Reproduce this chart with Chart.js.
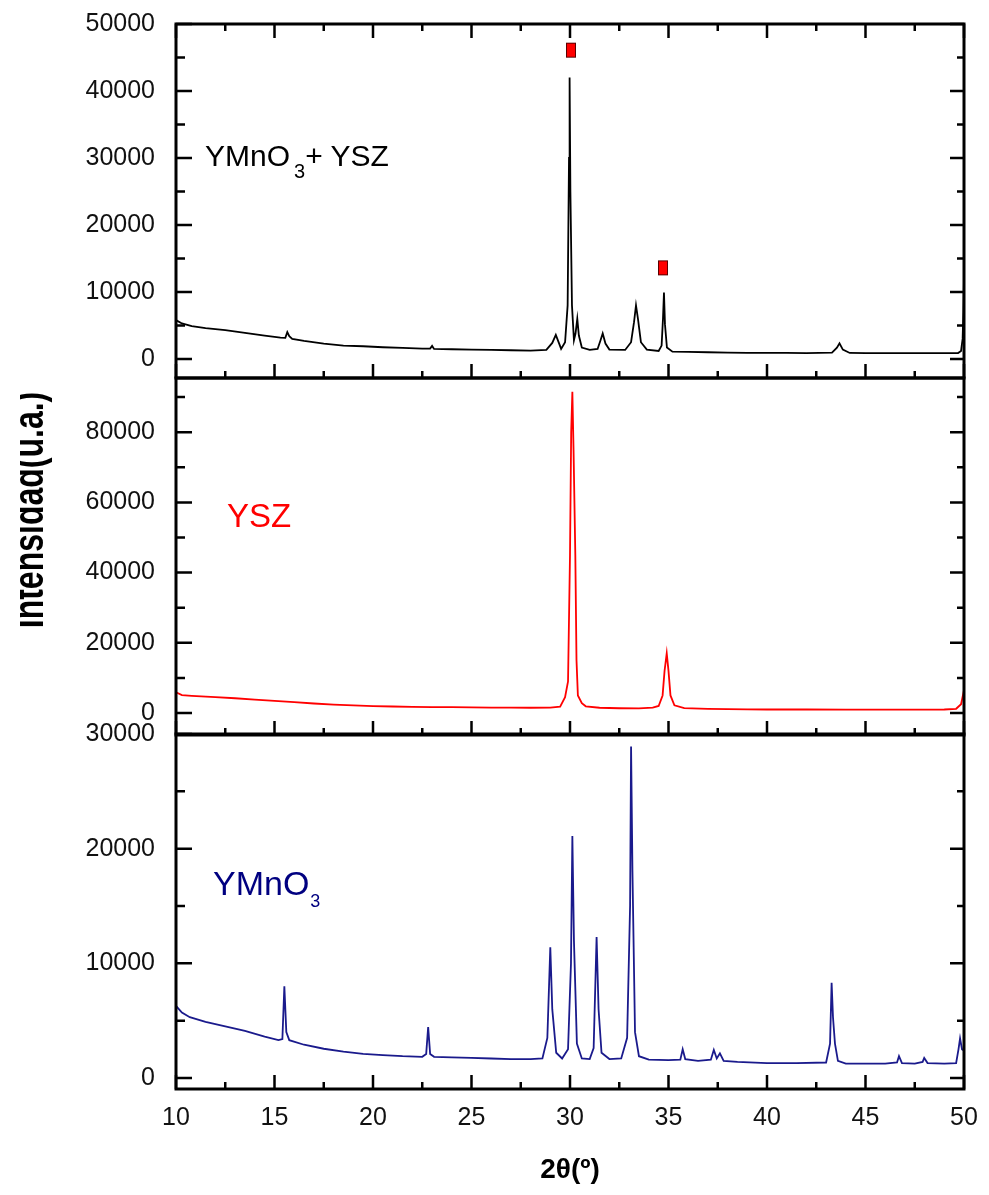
<!DOCTYPE html>
<html>
<head>
<meta charset="utf-8">
<script src="https://cdn.jsdelivr.net/npm/chart.js@4.4.0/dist/chart.umd.min.js"></script>
<style>
  body { margin: 0; background: #fff; width: 989px; height: 1195px; position: relative; overflow: hidden;
         font-family: "Liberation Sans", Arial, sans-serif; }
  canvas { position: absolute; left: 0; }
  .lbl { position: absolute; white-space: nowrap; }
  #yclip { position: absolute; left: 20px; top: 0; width: 40px; height: 1195px; overflow: hidden; }
  #ywrap { position: absolute; left: 8px; top: 510px; width: 0; height: 0; }
  #ytitle { position: absolute; left: 0; top: 0; white-space: nowrap; font-weight: bold; font-size: 32px;
            line-height: 32px; transform: translate(-50%, -50%) rotate(-90deg) scaleY(1.35); }
</style>
</head>
<body>
<canvas id="cTop" width="989" height="392" style="top:0"></canvas>
<canvas id="cMid" width="989" height="385" style="top:364px"></canvas>
<canvas id="cBot" width="989" height="475" style="top:720px"></canvas>

<div id="yclip"><div id="ywrap"><div id="ytitle">Intensidad(u.a.)</div></div></div>

<div class="lbl" style="left:205px;top:141px;font-size:30px;line-height:30px;color:#000">YMnO<span style="font-size:20px;position:relative;top:12px;margin-left:4px">3</span>+ YSZ</div>
<div class="lbl" style="left:227px;top:499px;font-size:33px;line-height:33px;color:#ff0000">YSZ</div>
<div class="lbl" style="left:213px;top:866px;font-size:34px;line-height:34px;color:#000080">YMnO<span style="font-size:18px;position:relative;top:12px;margin-left:1px">3</span></div>

<script>
// x axis (2 theta, degrees)
const xTicks = [10, 15, 20, 25, 30, 35, 40, 45, 50];

// YMnO3 + YSZ (top panel)
const mixX = [10.0, 10.3, 10.8, 11.5, 12.5, 13.5, 14.5, 15.3, 15.55, 15.65, 15.75, 15.9, 16.5, 17.5, 18.5, 19.5,
  20.5, 21.5, 22.5, 22.9, 23.0, 23.1, 24, 25, 26, 27, 28, 28.8, 29.1, 29.28, 29.45, 29.55, 29.75, 29.88, 29.95,
  29.98, 30.02, 30.1, 30.2, 30.28, 30.37, 30.45, 30.6, 31.0, 31.4, 31.55, 31.66, 31.8, 32.0, 32.8, 33.1, 33.25,
  33.35, 33.45, 33.6, 33.9, 34.5, 34.65, 34.72, 34.77, 34.82, 34.92, 35.2, 36, 37, 38, 39, 40, 41, 42, 43.3,
  43.55, 43.68, 43.85, 44.2, 45, 46, 47, 48, 49, 49.7, 49.85, 49.93, 49.97, 50.0];
const mixY = [5800, 5300, 4900, 4600, 4300, 3900, 3500, 3200, 3150, 4000, 3400, 3000, 2700, 2300, 2000, 1900,
  1750, 1650, 1550, 1550, 1950, 1500, 1450, 1400, 1350, 1300, 1250, 1350, 2400, 3600, 2300, 1500, 2500, 8000, 30000,
  42000, 25000, 8000, 2800, 3800, 6000, 3500, 1700, 1350, 1500, 2800, 3800, 2300, 1400, 1350, 2500, 5500,
  8000, 6000, 2500, 1400, 1200, 2000, 6000, 9900, 5200, 1700, 1100, 1050, 1000, 950, 900, 900, 900, 880, 950,
  1700, 2350, 1400, 900, 880, 870, 860, 860, 860, 880, 1200, 3000, 7000, 12200];
const mixTicks = [0, 10000, 20000, 30000, 40000, 50000];
// red square markers over the YSZ reflections
const markX = [30.05, 34.72];
const markY = [46100, 13600];

// YSZ (middle panel)
const yszX = [10.0, 10.3, 10.8, 12, 13, 14, 15, 16, 17, 18, 19, 20, 21, 22, 23, 24, 25, 26, 27, 28, 29, 29.5,
  29.75, 29.9, 30.0, 30.06, 30.12, 30.18, 30.27, 30.33, 30.4, 30.6, 30.8, 31.5, 32.5, 33.5, 34.2, 34.5, 34.7,
  34.8, 34.91, 35.0, 35.1, 35.3, 35.8, 37, 38, 39, 40, 42, 44, 46, 48, 49, 49.6, 49.85, 50.0];
const yszY = [5900, 5100, 4900, 4500, 4200, 3800, 3450, 3100, 2700, 2400, 2150, 1950, 1850, 1750, 1700, 1650,
  1600, 1550, 1550, 1500, 1550, 1800, 4500, 9000, 45000, 80000, 91500, 75000, 45000, 15000, 5000, 2800, 1900,
  1500, 1350, 1300, 1500, 2000, 5000, 12000, 17000, 12000, 5000, 2200, 1400, 1200, 1100, 1050, 1000, 1000, 950,
  950, 950, 1000, 1200, 2500, 6500];
const yszTicks = [0, 20000, 40000, 60000, 80000];

// YMnO3 (bottom panel)
const ymnX = [10.0, 10.3, 10.7, 11.5, 12.5, 13.5, 14.5, 15.2, 15.4, 15.5, 15.6, 15.75, 16.5, 17.5, 18.5, 19.5,
  20.5, 21.5, 22.5, 22.7, 22.8, 22.9, 23.1, 24, 25, 26, 27, 28, 28.6, 28.85, 29.0, 29.1, 29.3, 29.6, 29.9, 30.05,
  30.12, 30.2, 30.35, 30.6, 31.0, 31.2, 31.35, 31.45, 31.6, 32.0, 32.6, 32.9, 33.05, 33.1, 33.17, 33.3, 33.5,
  34, 35, 35.6, 35.72, 35.85, 36.5, 37.15, 37.3, 37.45, 37.61, 37.8, 38.5, 40, 41.5, 43.0, 43.2, 43.28, 43.35,
  43.45, 43.6, 44, 45, 46, 46.6, 46.7, 46.85, 47.5, 47.9, 47.98, 48.15, 49, 49.6, 49.72, 49.8, 49.9, 50.0];
const ymnY = [6300, 5700, 5300, 4900, 4500, 4100, 3600, 3300, 3400, 8000, 4000, 3300, 2900, 2550, 2300, 2100,
  2000, 1900, 1850, 2100, 4450, 2100, 1850, 1800, 1750, 1700, 1650, 1650, 1700, 3500, 11400, 6000, 2200, 1700,
  2500, 10000, 21100, 12000, 3000, 1700, 1650, 2600, 12300, 6000, 2200, 1650, 1700, 3500, 15000, 28900, 18000,
  4000, 1900, 1600, 1550, 1600, 2500, 1650, 1500, 1600, 2450, 1700, 2150, 1500, 1400, 1300, 1300, 1350, 3000,
  8300, 5300, 3000, 1500, 1250, 1250, 1250, 1350, 1900, 1300, 1250, 1400, 1750, 1300, 1250, 1300, 2500, 3450,
  2500, 2400];
const ymnTicks = [0, 10000, 20000, 30000];

const FONT = '"Liberation Sans", Arial, sans-serif';
Chart.defaults.font.family = FONT;

const pts = (xs, ys) => xs.map((x, i) => ({ x: x, y: ys[i] }));

// red marker glyph
const mark = document.createElement('canvas');
mark.width = 12; mark.height = 17;
const mc = mark.getContext('2d');
mc.fillStyle = '#ff0000';
mc.fillRect(1, 1, 10, 15);
mc.strokeStyle = '#5a0000';
mc.lineWidth = 1;
mc.strokeRect(1.5, 1.5, 9, 14);

// frame + inward tick marks, placed with the chart scales
const frameTicks = {
  id: 'frameTicks',
  afterDatasetsDraw(chart, args, opts) {
    const { ctx, chartArea: a, scales: { x, y } } = chart;
    ctx.save();
    ctx.strokeStyle = '#000';
    ctx.lineWidth = 2.5;
    ctx.beginPath();
    for (let v = x.min; v <= x.max + 1e-6; v += 2.5) {
      const px = x.getPixelForValue(v);
      const major = Math.abs(v % 5) < 1e-6;
      const len = major ? 14 : 7;
      ctx.moveTo(px, a.bottom); ctx.lineTo(px, a.bottom - len);
      if (opts.top) { ctx.moveTo(px, a.top); ctx.lineTo(px, a.top + len); }
    }
    for (let v = 0; v <= y.max + 1e-6; v += opts.minor) {
      const py = y.getPixelForValue(v);
      const major = Math.abs(v % (opts.minor * 2)) < 1e-6;
      ctx.moveTo(a.left, py); ctx.lineTo(a.left + (major ? 16 : 9), py);
      ctx.moveTo(a.right, py); ctx.lineTo(a.right - (major ? 14 : 7), py);
    }
    ctx.stroke();
    ctx.lineWidth = 3;
    ctx.strokeRect(a.left, a.top, a.right - a.left, a.bottom - a.top);
    ctx.restore();
  }
};

function panel(id, datasets, yMin, yMax, yTicks, minor, pad, opts) {
  const showX = !!opts.xLabels;
  return new Chart(document.getElementById(id), {
    type: 'line',
    data: { datasets: datasets },
    options: {
      responsive: false,
      animation: false,
      events: [],
      layout: { padding: { left: 0, right: 25, top: pad[0], bottom: pad[1] } },
      plugins: { legend: { display: false }, tooltip: { enabled: false }, frameTicks: { top: !!opts.top, minor: minor } },
      scales: {
        x: {
          type: 'linear', min: 10, max: 50,
          display: showX,
          afterBuildTicks: s => { s.ticks = xTicks.map(v => ({ value: v })); },
          afterFit: s => { s.height = showX ? 106 : 0; s.paddingLeft = 0; s.paddingRight = 0; },
          grid: { display: false, drawTicks: false },
          border: { display: false },
          ticks: { font: { size: 25 }, color: '#111', padding: 14, maxRotation: 0, autoSkip: false, callback: v => String(v) },
          title: { display: showX, text: '2θ(º)', color: '#000', font: { size: 28, weight: 'bold' }, padding: { top: 0, bottom: 8 } }
        },
        y: {
          min: yMin, max: yMax,
          afterBuildTicks: s => { s.ticks = yTicks.map(v => ({ value: v })); },
          afterFit: s => { s.width = 176; s.paddingTop = 0; s.paddingBottom = 0; },
          grid: { display: false, drawTicks: false },
          border: { display: false },
          ticks: { font: { size: 25 }, color: '#111', padding: 21, autoSkip: false, callback: v => String(v) }
        }
      }
    },
    plugins: [frameTicks]
  });
}

const lineSet = (xs, ys, color) => ({
  data: pts(xs, ys), borderColor: color, borderWidth: 1.8, pointRadius: 0, tension: 0, fill: false
});

panel('cTop', [
  lineSet(mixX, mixY, '#000000'),
  { data: pts(markX, markY), showLine: false, pointStyle: mark, pointRadius: 6 }
], -2840, 50000, mixTicks, 5000, [24, 14], { top: true });

panel('cMid', [lineSet(yszX, yszY, '#ff0000')], -6270, 95440, yszTicks, 10000, [14, 14], {});

panel('cBot', [lineSet(ymnX, ymnY, '#1a1a8c')], -960, 30000, ymnTicks, 5000, [14, 0], { xLabels: true });
</script>
</body>
</html>
